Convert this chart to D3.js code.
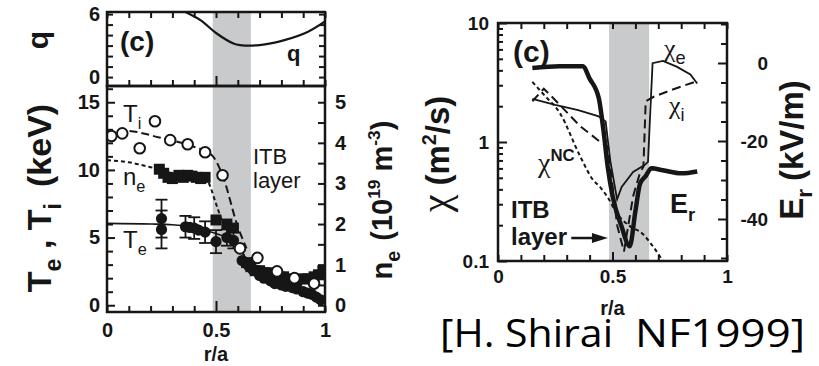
<!DOCTYPE html>
<html>
<head>
<meta charset="utf-8">
<script src="https://cdn.jsdelivr.net/npm/d3@7/dist/d3.min.js"></script>
<style>
  body { margin: 0; background: #fff; }
  svg { display: block; }
  text { font-family: "Liberation Sans", Arial, sans-serif; font-weight: bold; fill: #161616; }
  .tick line { stroke: #161616; stroke-width: 2; }
  .frame { fill: none; stroke: #161616; stroke-width: 2.5; }
  .band { fill: #c9cacc; }
  .line { fill: none; stroke: #161616; }
  .reg { font-weight: normal; }
  .greek { font-family: "Liberation Serif", "DejaVu Serif", serif; font-weight: normal; }
  .cite { font-family: "Open Sans", sans-serif; font-weight: normal; fill: #000; }
</style>
</head>
<body>
<svg width="819" height="366"></svg>
<script>
// values
var bandR = [0.485, 0.66];

// safety factor
var qR = [0.36, 0.43, 0.5, 0.58, 0.61, 0.7, 0.81, 0.92, 1.0];
var qVal = [6.2, 5.4, 4.2, 3.2, 3.05, 3.05, 3.5, 4.3, 5.3];

// ion temperature (keV), open circles + dashed fit
var tiR = [0.02, 0.07, 0.15, 0.22, 0.29, 0.37, 0.45, 0.53, 0.61, 0.69, 0.78, 0.86, 0.95];
var tiVal = [12.5, 12.7, 11.6, 13.6, 12.2, 11.9, 11.3, 9.6, 4.2, 3.5, 2.5, 2.0, 1.6];
var tiFitR = [0, 0.08, 0.24, 0.38, 0.48, 0.53, 0.6, 0.64];
var tiFitVal = [12.4, 12.9, 12.4, 11.8, 11.1, 9.6, 5.8, 4.2];

// electron temperature (keV), filled circles + solid fit
var teR = [0.25, 0.25, 0.36, 0.38, 0.40, 0.42, 0.45, 0.50, 0.55, 0.58, 0.62, 0.65, 0.67, 0.70, 0.72, 0.75, 0.77,
  0.80, 0.82, 0.85, 0.87, 0.90, 0.92, 0.94, 0.96, 0.98];
var teVal = [6.4, 5.6, 5.8, 5.75, 5.7, 5.55, 5.4, 4.7, 5.0, 4.8, 3.3, 2.9, 2.6, 2.2, 2.0, 1.8, 1.6,
  1.5, 1.4, 1.3, 1.2, 1.0, 0.9, 0.8, 0.6, 0.4];
var teErr = [1.4, 1.4, 0.8, 0, 0.8, 0, 0.8, 0.85, 0.6, 0.6, 0, 0, 0, 0, 0, 0, 0,
  0, 0, 0, 0, 0, 0, 0, 0, 0];
var teFitR = [0, 0.2, 0.3, 0.4, 0.5, 0.55, 0.6, 0.64, 0.68, 0.75, 0.85, 0.95];
var teFitVal = [6.05, 6.0, 5.95, 5.75, 5.3, 5.0, 4.4, 3.4, 2.6, 2.0, 1.5, 1.0];

// electron density (10^19 m^-3), filled squares + short-dashed fit
var neR = [0.24, 0.26, 0.28, 0.30, 0.33, 0.35, 0.37, 0.39, 0.41, 0.43, 0.45, 0.50, 0.55, 0.58, 0.64, 0.66, 0.68,
  0.70, 0.72, 0.74, 0.76, 0.79, 0.81, 0.84, 0.87, 0.90, 0.92, 0.95, 0.97, 0.99];
var neVal = [3.35, 3.25, 3.15, 3.12, 3.2, 3.15, 3.2, 3.18, 3.15, 3.12, 3.15, 2.1, 2.0, 1.9, 1.05, 0.95, 0.85,
  0.85, 0.8, 0.8, 0.75, 0.7, 0.7, 0.65, 0.6, 0.65, 0.65, 0.7, 0.75, 0.85];
var neFitR = [0, 0.1, 0.2, 0.3, 0.4, 0.46, 0.5, 0.53, 0.57, 0.62, 0.66];
var neFitVal = [3.57, 3.52, 3.4, 3.25, 3.15, 3.05, 2.5, 2.05, 1.7, 1.3, 1.0];

// diffusivities (m^2/s)
var chiER = [0.15, 0.25, 0.35, 0.44, 0.47, 0.49, 0.52, 0.54, 0.59, 0.64, 0.655, 0.665, 0.675, 0.72, 0.78, 0.84, 0.87];
var chiEVal = [2.3, 2.05, 1.85, 1.64, 1.49, 0.7, 0.33, 0.42, 0.56, 0.64, 0.68, 1.8, 4.6, 4.8, 4.3, 3.7, 3.1];
var chiIR = [0.15, 0.2, 0.245, 0.36, 0.45, 0.48, 0.52, 0.55, 0.59, 0.62, 0.635, 0.645, 0.68, 0.76, 0.87];
var chiIVal = [2.2, 2.8, 2.3, 1.35, 0.99, 0.92, 0.2, 0.12, 0.35, 0.55, 0.62, 2.2, 2.4, 2.75, 3.25];
var chiNcR = [0.15, 0.2, 0.27, 0.36, 0.415, 0.445, 0.48, 0.52, 0.57, 0.63, 0.68, 0.72];
var chiNcVal = [3.2, 2.5, 1.75, 0.75, 0.48, 0.42, 0.34, 0.25, 0.2, 0.17, 0.13, 0.1];

// radial electric field (kV/m)
var erR = [0.15, 0.27, 0.37, 0.40, 0.44, 0.46, 0.48, 0.50, 0.54, 0.575, 0.60, 0.62, 0.645, 0.67, 0.72, 0.80, 0.87];
var erVal = [-1.3, -0.8, -0.8, -4, -9, -17, -27, -34, -42, -47, -38, -31, -29, -27, -27.5, -28.3, -27.8];

// tick values and labels
var rTicks = d3.range(11).map(function (i) { return i / 10; });
var rLabels = [0, 0.5, 1];
var qTicks = d3.range(7);
var qLabels = [0, 6];
var tTicks = d3.range(17);
var tLabels = [0, 5, 10, 15];
var nTicks = d3.range(11).map(function (i) { return i / 2; });
var nLabels = [0, 1, 2, 3, 4, 5];
var chiTicks = d3.range(1, 10).map(function (i) { return i / 10; }).concat(d3.range(1, 11));
var chiLabels = [0.1, 1, 10];
var erTicks = d3.range(-50, 11, 5);
var erLabels = [0, -20, -40];

var svg = d3.select("svg");

var xL = d3.scaleLinear().domain([0, 1]).range([107, 325]);
var yQ = d3.scaleLinear().domain([-0.85, 6.2]).range([86, 12]);
var yT = d3.scaleLinear().domain([-0.5, 16.2]).range([312, 86]);
var yN = d3.scaleLinear().domain([-0.5 / 3, 16.2 / 3]).range([312, 86]);
var xR = d3.scaleLinear().domain([0, 1]).range([498, 727]);
var yChi = d3.scaleLog().domain([0.1, 10]).range([261, 23]);
var yEr = d3.scaleLinear().domain([-50.77, 10.26]).range([261, 23]);

function near(list, v) {
  return list.some(function (l) { return Math.abs(l - v) < 1e-6; });
}

function lineOf(x, y, curve) {
  return d3.line()
    .x(function (d) { return x(d[0]); })
    .y(function (d) { return y(d[1]); })
    .curve(curve || d3.curveMonotoneX);
}

// ticks drawn inward on a frame edge, labels only on selected values
function edgeTicks(pos, orient, scale, values, opt) {
  var make = { left: d3.axisLeft, right: d3.axisRight, top: d3.axisTop, bottom: d3.axisBottom }[orient];
  var labels = opt.labels || [];
  var majors = opt.majors || [];
  var g = svg.append("g").attr("transform", pos);
  g.call(make(scale).tickValues(values).tickSizeOuter(0).tickSizeInner(0)
    .tickPadding(opt.pad || 8)
    .tickFormat(function (d) { return near(labels, d) ? String(d) : ""; }));
  g.select(".domain").remove();
  g.attr("font-size", null).attr("font-family", null);
  var vertical = orient === "left" || orient === "right";
  g.selectAll(".tick line").attr(vertical ? "x2" : "y2", function (d) {
    return opt.sign * (near(majors, d) ? opt.major : opt.minor);
  });
  g.selectAll(".tick text").style("font-size", (opt.size || 20) + "px");
  return g;
}

// text with sub/superscripts
function rich(parent, x, y, parts, size) {
  var t = parent.append("text").attr("x", x).attr("y", y).style("font-size", size + "px");
  var shift = 0;
  parts.forEach(function (p) {
    var s = p.sub ? 0.28 * size : p.sup ? -0.4 * size : 0;
    var ts = t.append("tspan").attr("dy", s - shift).text(p.t);
    if (p.sub || p.sup) ts.style("font-size", (p.scale || 0.68) * size + "px");
    if (p.size) ts.style("font-size", p.size + "px");
    if (p.cls) ts.attr("class", p.cls);
    if (p.dx) ts.attr("dx", p.dx);
    shift = s;
  });
  return t;
}

var defs = svg.append("defs");
defs.append("clipPath").attr("id", "clipQ").append("rect")
  .attr("x", xL(0)).attr("y", yQ(6.2)).attr("width", xL(1) - xL(0)).attr("height", yQ(-0.85) - yQ(6.2));
defs.append("clipPath").attr("id", "clipLow").append("rect")
  .attr("x", xL(0)).attr("y", yT(16.2)).attr("width", xL(1) - xL(0)).attr("height", yT(-0.5) - yT(16.2));
defs.append("clipPath").attr("id", "clipR").append("rect")
  .attr("x", xR(0)).attr("y", 23).attr("width", xR(1) - xR(0)).attr("height", 238);

// ---------------- left figure ----------------
svg.append("rect").attr("class", "band")
  .attr("x", xL(bandR[0])).attr("width", xL(bandR[1]) - xL(bandR[0]))
  .attr("y", yQ(6.2)).attr("height", yT(-0.5) - yQ(6.2));

var qG = svg.append("g").attr("clip-path", "url(#clipQ)");
qG.append("path").attr("class", "line").datum(d3.zip(qR, qVal))
  .attr("d", lineOf(xL, yQ, d3.curveCatmullRom)).style("stroke-width", 2.2);

var low = svg.append("g").attr("clip-path", "url(#clipLow)");
low.append("path").attr("class", "line").datum(d3.zip(teFitR, teFitVal))
  .attr("d", lineOf(xL, yT)).style("stroke-width", 1.6);
low.append("path").attr("class", "line").datum(d3.zip(neFitR, neFitVal))
  .attr("d", lineOf(xL, yN)).style("stroke-width", 2).style("stroke-dasharray", "4,3");
low.append("path").attr("class", "line").datum(d3.zip(tiFitR, tiFitVal))
  .attr("d", lineOf(xL, yT)).style("stroke-width", 2).style("stroke-dasharray", "8,4");

var teData = teR.map(function (r, i) { return { r: r, v: teVal[i], e: teErr[i] }; });
var errG = low.append("g").attr("class", "line").style("stroke-width", 1.8);
teData.filter(function (d) { return d.e > 0; }).forEach(function (d) {
  errG.append("line").attr("x1", xL(d.r)).attr("x2", xL(d.r)).attr("y1", yT(d.v - d.e)).attr("y2", yT(d.v + d.e));
  [d.v - d.e, d.v + d.e].forEach(function (v) {
    errG.append("line").attr("x1", xL(d.r) - 6).attr("x2", xL(d.r) + 6).attr("y1", yT(v)).attr("y2", yT(v));
  });
});

low.selectAll(".ne").data(d3.zip(neR, neVal)).enter().append("rect")
  .attr("x", function (d) { return xL(d[0]) - 5.5; })
  .attr("y", function (d) { return yN(d[1]) - 5.5; })
  .attr("width", 11).attr("height", 11).style("fill", "#161616");

low.selectAll(".te").data(teData).enter().append("circle")
  .attr("cx", function (d) { return xL(d.r); })
  .attr("cy", function (d) { return yT(d.v); })
  .attr("r", 5.6).style("fill", "#161616");

low.selectAll(".ti").data(d3.zip(tiR, tiVal)).enter().append("circle")
  .attr("cx", function (d) { return xL(d[0]); })
  .attr("cy", function (d) { return yT(d[1]); })
  .attr("r", 5.3).style("fill", "#fff").style("stroke", "#161616").style("stroke-width", 2);

svg.append("rect").attr("class", "frame")
  .attr("x", xL(0)).attr("y", yQ(6.2)).attr("width", xL(1) - xL(0)).attr("height", yQ(-0.85) - yQ(6.2));
svg.append("rect").attr("class", "frame")
  .attr("x", xL(0)).attr("y", yT(16.2)).attr("width", xL(1) - xL(0)).attr("height", yT(-0.5) - yT(16.2));

edgeTicks("translate(" + xL(0) + ",0)", "left", yQ, qTicks, { labels: qLabels, sign: 1, minor: 6, pad: 7 });
edgeTicks("translate(" + xL(1) + ",0)", "right", yQ, qTicks, { sign: -1, minor: 6 });
edgeTicks("translate(0," + yQ(6.2) + ")", "top", xL, rTicks, { sign: 1, minor: 6 });
edgeTicks("translate(0," + yQ(-0.85) + ")", "bottom", xL, rTicks, { sign: -1, minor: 6, major: 10, majors: [0.5] });
edgeTicks("translate(" + xL(0) + ",0)", "left", yT, tTicks, { labels: tLabels, majors: tLabels, sign: 1, minor: 6, major: 8, pad: 7 });
edgeTicks("translate(" + xL(1) + ",0)", "right", yN, nTicks, { labels: nLabels, sign: -1, minor: 7, pad: 10 });
edgeTicks("translate(0," + yT(-0.5) + ")", "bottom", xL, rTicks, { labels: rLabels, majors: [0.5], sign: -1, minor: 6, major: 11, pad: 11 });

svg.append("text").attr("x", xL(0.5)).attr("y", 361).attr("text-anchor", "middle").style("font-size", "20px").text("r/a");

// axis titles
var tq = svg.append("g").attr("transform", "translate(48,40) rotate(-90)");
rich(tq, 0, 0, [{ t: "q" }], 30).attr("text-anchor", "middle");
var tt = svg.append("g").attr("transform", "translate(51,198) rotate(-90)");
rich(tt, 0, 0, [{ t: "T" }, { t: "e", sub: true }, { t: " , T" }, { t: "i", sub: true }, { t: "(keV)", dx: 16 }], 34)
  .attr("text-anchor", "middle");
var tn = svg.append("g").attr("transform", "translate(392,200) rotate(-90)");
rich(tn, 0, 0, [{ t: "n" }, { t: "e", sub: true }, { t: "(10", dx: 10 }, { t: "19", sup: true, scale: 0.6 },
  { t: " m" }, { t: "-3", sup: true, scale: 0.6 }, { t: ")" }], 29).attr("text-anchor", "middle");

// in-plot labels
svg.append("text").attr("x", 120).attr("y", 51).style("font-size", "28px").text("(c)");
svg.append("text").attr("x", 287).attr("y", 61).style("font-size", "22px").text("q");
rich(svg, 123, 122, [{ t: "T" }, { t: "i", sub: true }], 24).attr("class", "reg");
rich(svg, 123, 185, [{ t: "n" }, { t: "e", sub: true }], 24).attr("class", "reg");
rich(svg, 123, 248, [{ t: "T" }, { t: "e", sub: true }], 24).attr("class", "reg");
svg.append("text").attr("class", "reg").attr("x", 253).attr("y", 164).style("font-size", "22px").text("ITB");
svg.append("text").attr("class", "reg").attr("x", 253).attr("y", 188).style("font-size", "22px").text("layer");

// ---------------- right figure ----------------
svg.append("rect").attr("class", "band")
  .attr("x", xR(bandR[0])).attr("width", xR(bandR[1]) - xR(bandR[0]))
  .attr("y", 23).attr("height", 238);

var rp = svg.append("g").attr("clip-path", "url(#clipR)");
rp.append("path").attr("class", "line").datum(d3.zip(chiNcR, chiNcVal))
  .attr("d", lineOf(xR, yChi)).style("stroke-width", 2).style("stroke-dasharray", "4,3");
rp.append("path").attr("class", "line").datum(d3.zip(chiIR, chiIVal))
  .attr("d", lineOf(xR, yChi, d3.curveLinear)).style("stroke-width", 2).style("stroke-dasharray", "9,5");
rp.append("path").attr("class", "line").datum(d3.zip(chiER, chiEVal))
  .attr("d", lineOf(xR, yChi, d3.curveLinear)).style("stroke-width", 1.8);
rp.append("path").attr("class", "line").datum(d3.zip(erR, erVal))
  .attr("d", lineOf(xR, yEr)).style("stroke-width", 4.5).style("stroke-linejoin", "round");

svg.append("rect").attr("class", "frame")
  .attr("x", xR(0)).attr("y", 23).attr("width", xR(1) - xR(0)).attr("height", 238);

edgeTicks("translate(" + xR(0) + ",0)", "left", yChi, chiTicks, { labels: chiLabels, majors: chiLabels, sign: 1, minor: 5, major: 9, pad: 9, size: 19 });
var erAxis = edgeTicks("translate(" + xR(1) + ",0)", "right", yEr, erTicks, { labels: erLabels, majors: erLabels, sign: -1, minor: 6, major: 9, size: 19 });
erAxis.selectAll(".tick text").attr("text-anchor", "end").attr("x", 41);
edgeTicks("translate(0,23)", "top", xR, rTicks, { sign: 1, minor: 6 });
edgeTicks("translate(0,261)", "bottom", xR, rTicks, { labels: rLabels, majors: [0.5], sign: -1, minor: 6, major: 9, pad: 9, size: 19 });

svg.append("text").attr("x", xR(0.5)).attr("y", 315).attr("text-anchor", "middle").style("font-size", "20px").text("r/a");

var tc = svg.append("g").attr("transform", "translate(449,154) rotate(-90)");
rich(tc, 0, 0, [{ t: "χ", cls: "greek", size: 40 }, { t: "(m", dx: 9 }, { t: "2", sup: true, scale: 0.6 }, { t: "/s)" }], 33)
  .attr("text-anchor", "middle");
var te = svg.append("g").attr("transform", "translate(803,150) rotate(-90)");
rich(te, 0, 0, [{ t: "E" }, { t: "r", sub: true }, { t: "(kV/m)", dx: 8 }], 33).attr("text-anchor", "middle");

svg.append("text").attr("x", 513).attr("y", 62).style("font-size", "30px").text("(c)");
rich(svg, 664, 57, [{ t: "χ", cls: "greek" }, { t: "e", sub: true, cls: "reg", scale: 0.7 }], 26);
rich(svg, 669, 114, [{ t: "χ", cls: "greek" }, { t: "i", sub: true, cls: "reg", scale: 0.7 }], 26);
rich(svg, 538, 172, [{ t: "χ", cls: "greek" }, { t: "NC", sup: true, scale: 0.6 }], 28);
rich(svg, 670, 213, [{ t: "E" }, { t: "r", sub: true }], 27);
svg.append("text").attr("x", 511).attr("y", 218).style("font-size", "24px").text("ITB");
svg.append("text").attr("x", 511).attr("y", 245).style("font-size", "24px").text("layer");

var arrowY = yChi(0.156);
svg.append("line").attr("x1", xR(0.32)).attr("x2", xR(0.43)).attr("y1", arrowY).attr("y2", arrowY)
  .style("stroke", "#161616").style("stroke-width", 2.5);
svg.append("path").style("fill", "#161616")
  .attr("d", "M" + xR(0.48) + "," + arrowY + "L" + (xR(0.48) - 16) + "," + (arrowY - 5) +
    "L" + (xR(0.48) - 16) + "," + (arrowY + 5) + "Z");

// reference note
svg.append("text").attr("class", "cite").attr("x", 440).attr("y", 347).style("font-size", "38px")
  .attr("textLength", 173).attr("lengthAdjust", "spacingAndGlyphs").text("[H. Shirai");
svg.append("text").attr("class", "cite").attr("x", 635).attr("y", 347).style("font-size", "38px")
  .attr("textLength", 170).attr("lengthAdjust", "spacingAndGlyphs").text("NF1999]");
</script>
</body>
</html>
